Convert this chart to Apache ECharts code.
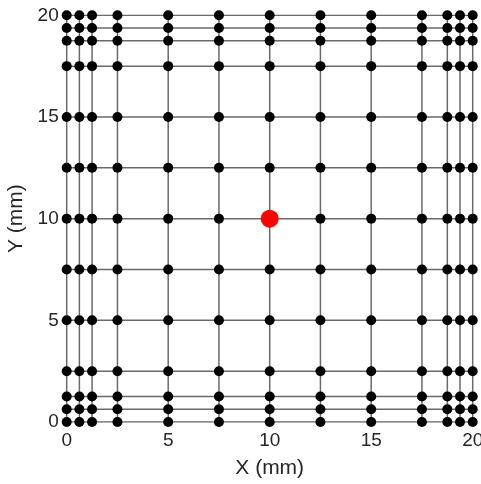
<!DOCTYPE html>
<html>
<head>
<meta charset="utf-8">
<script src="https://cdn.jsdelivr.net/npm/echarts@6/dist/echarts.min.js"></script>
<style>
  html, body { margin: 0; padding: 0; background: #fff; }
  #chart { width: 481px; height: 484px; }
</style>
</head>
<body>
<div id="chart"></div>
<script>
// Node coordinates of the refined mesh (mm)
const xNodes = [0, 0.625, 1.25, 2.5, 5, 7.5, 10, 12.5, 15, 17.5, 18.75, 19.375, 20];
const yNodes = [0, 0.625, 1.25, 2.5, 5, 7.5, 10, 12.5, 15, 17.5, 18.75, 19.375, 20];
// Source location (mm)
const source = [10, 10];
// Tick labels on both axes
const tickValues = [0, 5, 10, 15, 20];

const FONT = 'Arial, "Liberation Sans", Helvetica, sans-serif';
const lineColor = '#6a6a6a';

const series = [];

// Horizontal mesh lines
yNodes.forEach(function (y) {
  series.push({
    type: 'line', silent: true, symbol: 'none', z: 1,
    lineStyle: { color: lineColor, width: 1.5 },
    data: [[xNodes[0], y], [xNodes[xNodes.length - 1], y]]
  });
});
// Vertical mesh lines
xNodes.forEach(function (x) {
  series.push({
    type: 'line', silent: true, symbol: 'none', z: 1,
    lineStyle: { color: lineColor, width: 1.5 },
    data: [[x, yNodes[0]], [x, yNodes[yNodes.length - 1]]]
  });
});

// Mesh nodes
const nodePts = [];
yNodes.forEach(function (y) {
  xNodes.forEach(function (x) { nodePts.push([x, y]); });
});
series.push({
  type: 'scatter', z: 3, symbolSize: 10,
  itemStyle: { color: '#000', opacity: 1 },
  data: nodePts
});

// Source point
series.push({
  type: 'scatter', z: 4, symbolSize: 18,
  itemStyle: { color: '#ff0000', opacity: 1 },
  data: [source]
});

const axisCommon = {
  type: 'value', min: 0, max: 20, interval: 5,
  axisLine: { show: false },
  axisTick: { show: false },
  splitLine: { show: false },
  nameLocation: 'middle',
  nameTextStyle: { fontFamily: FONT, fontSize: 21, color: '#262626' },
  axisLabel: {
    fontFamily: FONT, fontSize: 19, color: '#262626',
    showMinLabel: true, showMaxLabel: true, hideOverlap: false,
    formatter: function (v) { return tickValues.indexOf(v) >= 0 ? String(v) : ''; }
  }
};

const chart = echarts.init(document.getElementById('chart'), null, { renderer: 'canvas' });
chart.setOption({
  animation: false,
  backgroundColor: '#fff',
  grid: {
    left: 66.7, right: 8.3, top: 15.3, bottom: 62,
    containLabel: false, outerBoundsMode: 'none'
  },
  xAxis: Object.assign({}, axisCommon, {
    name: 'X (mm)', nameGap: 36,
    axisLabel: Object.assign({}, axisCommon.axisLabel, { margin: 9 })
  }),
  yAxis: Object.assign({}, axisCommon, {
    name: 'Y (mm)', nameGap: 33,
    axisLabel: Object.assign({}, axisCommon.axisLabel, { margin: 8 })
  }),
  series: series
});
</script>
</body>
</html>
